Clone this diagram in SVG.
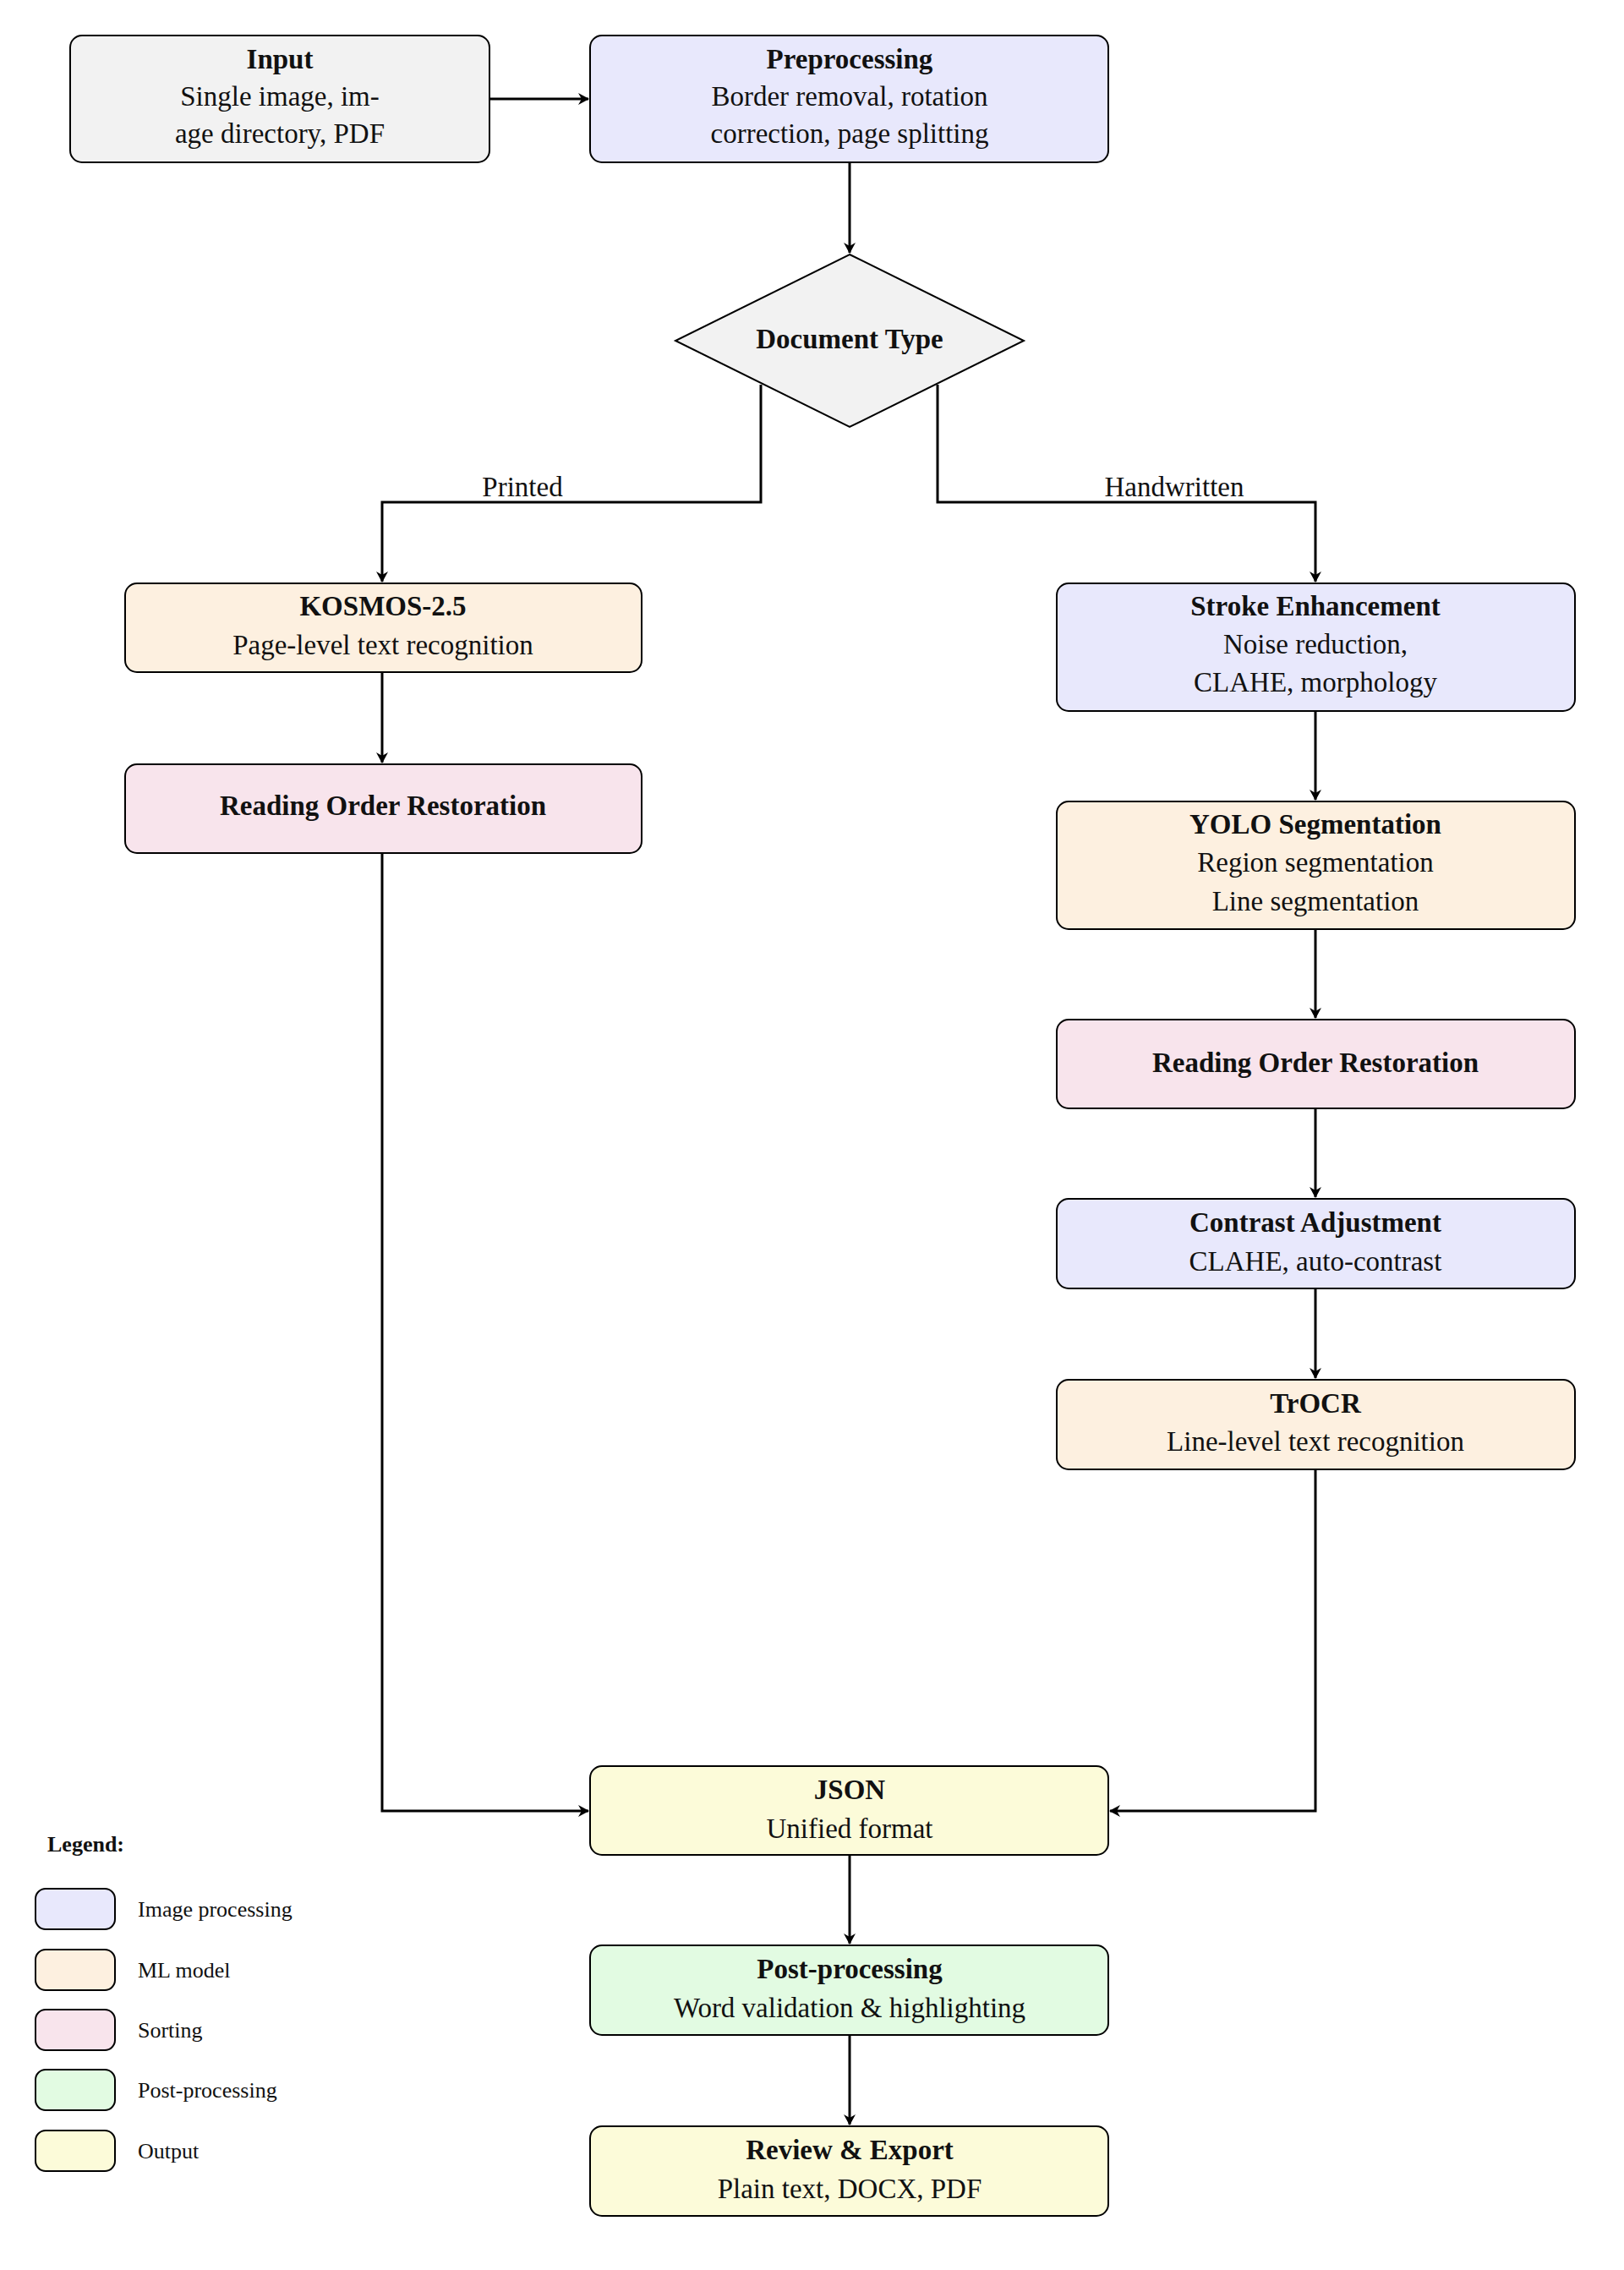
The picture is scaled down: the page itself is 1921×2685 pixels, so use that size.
<svg xmlns="http://www.w3.org/2000/svg" width="1921" height="2685" viewBox="0 0 1921 2685">
<style>
.n{stroke:#000;stroke-width:2}
.t{font-family:"Liberation Serif",serif;font-size:33px;text-anchor:middle;dominant-baseline:central;fill:#111}
.b{font-weight:bold}
.l{font-family:"Liberation Serif",serif;font-size:26px;dominant-baseline:central;fill:#111}
.c{fill:none;stroke:#000;stroke-width:3;marker-end:url(#a)}
.gray{fill:#f2f2f2}.blue{fill:#e8e8fc}.org{fill:#fdf0e0}.pink{fill:#f8e4ec}.grn{fill:#e2fbe2}.yel{fill:#fcfbd9}
</style>
<defs><marker id="a" markerWidth="14" markerHeight="14" refX="12" refY="7" orient="auto" markerUnits="userSpaceOnUse"><path d="M0,0 L13,7 L0,14 L4,7 Z" fill="#000"/></marker></defs>
<rect width="1921" height="2685" fill="#fff"/>
<g id="connectors">
<path class="c" d="M579,117 H696"/>
<path class="c" d="M1005,192 V299"/>
<path class="c" d="M900,455 V594 H452 V688"/>
<path class="c" d="M1109,455 V594 H1556 V688"/>
<path class="c" d="M452,795 V902"/>
<path class="c" d="M1556,841 V946"/>
<path class="c" d="M1556,1099 V1204"/>
<path class="c" d="M1556,1311 V1416"/>
<path class="c" d="M1556,1524 V1630"/>
<path class="c" d="M452,1009 V2142 H696"/>
<path class="c" d="M1556,1738 V2142 H1313"/>
<path class="c" d="M1005,2194 V2299"/>
<path class="c" d="M1005,2407 V2513"/>
<text class="t" x="618" y="576">Printed</text>
<text class="t" x="1389" y="576">Handwritten</text>
</g>
<g id="input"><rect class="n gray" x="83" y="42" width="496" height="150" rx="14"/><text class="t b" x="331" y="70">Input</text><text class="t" x="331" y="114">Single image, im-</text><text class="t" x="331" y="158">age directory, PDF</text></g>
<g id="pre"><rect class="n blue" x="698" y="42" width="613" height="150" rx="14"/><text class="t b" x="1005" y="70">Preprocessing</text><text class="t" x="1005" y="114">Border removal, rotation</text><text class="t" x="1005" y="158">correction, page splitting</text></g>
<g id="doctype"><polygon class="n" fill="#f2f2f2" points="1005,301 1211,403 1005,505 799,403"/><text class="t b" x="1005" y="401">Document Type</text></g>
<g id="kosmos"><rect class="n org" x="148" y="690" width="611" height="105" rx="14"/><text class="t b" x="453" y="717">KOSMOS-2.5</text><text class="t" x="453" y="763">Page-level text recognition</text></g>
<g id="rol"><rect class="n pink" x="148" y="904" width="611" height="105" rx="14"/><text class="t b" x="453" y="953">Reading Order Restoration</text></g>
<g id="stroke"><rect class="n blue" x="1250" y="690" width="613" height="151" rx="14"/><text class="t b" x="1556" y="717">Stroke Enhancement</text><text class="t" x="1556" y="762">Noise reduction,</text><text class="t" x="1556" y="807">CLAHE, morphology</text></g>
<g id="yolo"><rect class="n org" x="1250" y="948" width="613" height="151" rx="14"/><text class="t b" x="1556" y="975">YOLO Segmentation</text><text class="t" x="1556" y="1020">Region segmentation</text><text class="t" x="1556" y="1066">Line segmentation</text></g>
<g id="ror"><rect class="n pink" x="1250" y="1206" width="613" height="105" rx="14"/><text class="t b" x="1556" y="1257">Reading Order Restoration</text></g>
<g id="contrast"><rect class="n blue" x="1250" y="1418" width="613" height="106" rx="14"/><text class="t b" x="1556" y="1446">Contrast Adjustment</text><text class="t" x="1556" y="1492">CLAHE, auto-contrast</text></g>
<g id="trocr"><rect class="n org" x="1250" y="1632" width="613" height="106" rx="14"/><text class="t b" x="1556" y="1660">TrOCR</text><text class="t" x="1556" y="1705">Line-level text recognition</text></g>
<g id="json"><rect class="n yel" x="698" y="2089" width="613" height="105" rx="14"/><text class="t b" x="1005" y="2117">JSON</text><text class="t" x="1005" y="2163">Unified format</text></g>
<g id="post"><rect class="n grn" x="698" y="2301" width="613" height="106" rx="14"/><text class="t b" x="1005" y="2329">Post-processing</text><text class="t" x="1005" y="2375">Word validation &amp; highlighting</text></g>
<g id="review"><rect class="n yel" x="698" y="2515" width="613" height="106" rx="14"/><text class="t b" x="1005" y="2543">Review &amp; Export</text><text class="t" x="1005" y="2589">Plain text, DOCX, PDF</text></g>
<g id="legend">
<text class="l b" x="56" y="2181" font-size="24">Legend:</text>
<rect class="n blue" x="42" y="2234" width="94" height="48" rx="12"/><text class="l" x="163" y="2258">Image processing</text>
<rect class="n org" x="42" y="2306" width="94" height="48" rx="12"/><text class="l" x="163" y="2330">ML model</text>
<rect class="n pink" x="42" y="2377" width="94" height="48" rx="12"/><text class="l" x="163" y="2401">Sorting</text>
<rect class="n grn" x="42" y="2448" width="94" height="48" rx="12"/><text class="l" x="163" y="2472">Post-processing</text>
<rect class="n yel" x="42" y="2520" width="94" height="48" rx="12"/><text class="l" x="163" y="2544">Output</text>
</g>
</svg>
